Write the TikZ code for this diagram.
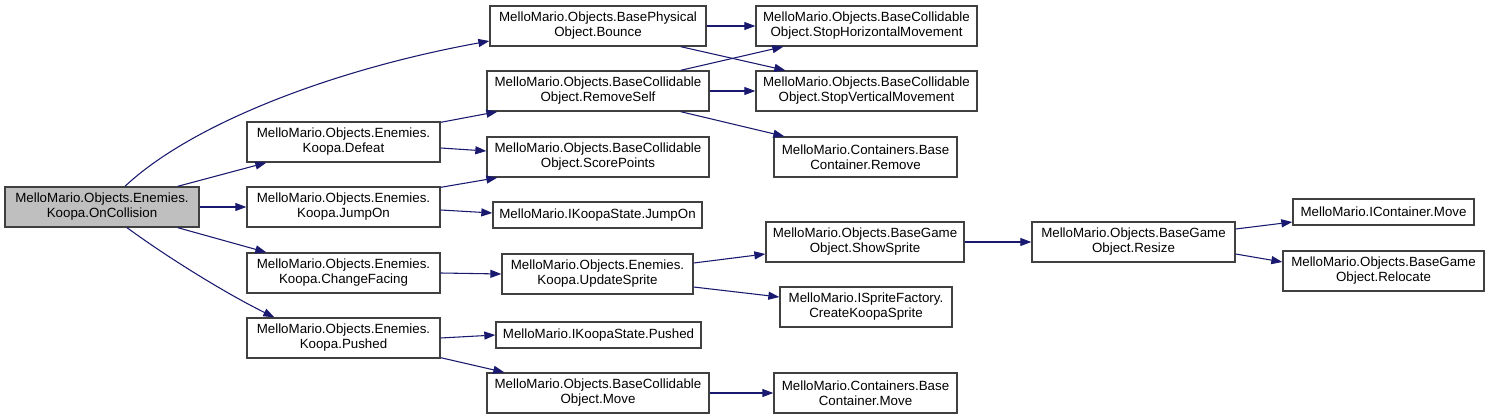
\documentclass[tikz,border=0pt]{standalone}
\usepackage{fontspec}
\setmainfont{Liberation Sans}
\usetikzlibrary{arrows.meta,calc}
\definecolor{edgec}{HTML}{191970}
\definecolor{boxc}{HTML}{404040}
\definecolor{grayfill}{HTML}{BFBFBF}
\newcommand\bnode[7]{%
  \pgfmathsetmacro\bw{(#5-#3)*0.75}%
  \pgfmathsetmacro\bh{(#6-#4)*0.75}%
  \node[box,#1,minimum width=\bw pt,minimum height=\bh pt] (#2) at ({(#3+#5)/2},{(#4+#6)/2}) {#7};}
\begin{document}
\begin{tikzpicture}[x=0.75pt,y=-0.75pt,
  box/.style={draw=boxc,line width=1pt,fill=white,align=center,inner sep=0pt,
    font=\fontsize{10pt}{11.25pt}\selectfont},
  hilite/.style={fill=grayfill},
  edge/.style={draw=edgec,line width=0.8pt,-{Triangle[length=8.25pt,width=6pt]}}]
\useasboundingbox (0,0) rectangle (1491,420);
\fill[white] (0,0) rectangle (1491,420);
\bnode{hilite}{oncoll}{5}{187}{199}{227}{MelloMario.Objects.Enemies.\\Koopa.OnCollision}
\bnode{}{defeat}{247}{122}{440}{162}{MelloMario.Objects.Enemies.\\Koopa.Defeat}
\bnode{}{jumpon}{247}{187}{440}{227}{MelloMario.Objects.Enemies.\\Koopa.JumpOn}
\bnode{}{chgf}{247}{253}{440}{293}{MelloMario.Objects.Enemies.\\Koopa.ChangeFacing}
\bnode{}{pushed}{247}{318}{440}{358}{MelloMario.Objects.Enemies.\\Koopa.Pushed}
\bnode{}{bounce}{490}{6}{706}{46}{MelloMario.Objects.BasePhysical\\Object.Bounce}
\bnode{}{removeself}{487}{71}{709}{111}{MelloMario.Objects.BaseCollidable\\Object.RemoveSelf}
\bnode{}{score}{487}{137}{709}{177}{MelloMario.Objects.BaseCollidable\\Object.ScorePoints}
\bnode{}{ijump}{493}{202}{702}{228}{MelloMario.IKoopaState.JumpOn}
\bnode{}{update}{502}{254}{693}{294}{MelloMario.Objects.Enemies.\\Koopa.UpdateSprite}
\bnode{}{ipushed}{496}{322}{701}{348}{MelloMario.IKoopaState.Pushed}
\bnode{}{move}{487}{373}{709}{413}{MelloMario.Objects.BaseCollidable\\Object.Move}
\bnode{}{stoph}{756}{6}{977}{46}{MelloMario.Objects.BaseCollidable\\Object.StopHorizontalMovement}
\bnode{}{stopv}{756}{71}{977}{111}{MelloMario.Objects.BaseCollidable\\Object.StopVerticalMovement}
\bnode{}{cremove}{774}{137}{957}{177}{MelloMario.Containers.Base\\Container.Remove}
\bnode{}{show}{766}{222}{964}{262}{MelloMario.Objects.BaseGame\\Object.ShowSprite}
\bnode{}{create}{780}{287}{952}{327}{MelloMario.ISpriteFactory.\\CreateKoopaSprite}
\bnode{}{cmove}{774}{373}{957}{413}{MelloMario.Containers.Base\\Container.Move}
\bnode{}{resize}{1032}{222}{1235}{262}{MelloMario.Objects.BaseGame\\Object.Resize}
\bnode{}{icmove}{1293}{199}{1474}{225}{MelloMario.IContainer.Move}
\bnode{}{relocate}{1283}{251}{1484}{291}{MelloMario.Objects.BaseGame\\Object.Relocate}

\draw[edge] ($(oncoll.north)+(23,0)$) .. controls (190,125) and (330,70) .. ($(bounce.west)+(0,15)$);
\draw[edge] ($(oncoll.north east)+(-22,0)$) -- ($(defeat.south west)+(20,0)$);
\draw[edge] (oncoll.east) -- (jumpon.west);
\draw[edge] ($(oncoll.south east)+(-22,0)$) -- ($(chgf.north west)+(20,0)$);
\draw[edge] ($(oncoll.south)+(25,0)$) .. controls (167,257) and (225,293) .. ($(pushed.north west)+(28,0)$);
\draw[edge] ($(defeat.north east)+(0,1)$) -- ($(removeself.south west)+(11,0)$);
\draw[edge] ($(defeat.east)+(0,6)$) -- ($(score.west)+(0,-6)$);
\draw[edge] ($(jumpon.north east)+(0,1)$) -- ($(score.south west)+(11,0)$);
\draw[edge] ($(jumpon.east)+(0,3)$) -- ($(ijump.west)+(0,-2)$);
\draw[edge] (chgf.east) -- (update.west);
\draw[edge] (pushed.east) -- (ipushed.west);
\draw[edge] ($(pushed.south east)+(0,-1)$) -- ($(move.north west)+(18,0)$);
\draw[edge] (bounce.east) -- (stoph.west);
\draw[edge] ($(bounce.south east)+(-26,0)$) -- ($(stopv.north west)+(30,0)$);
\draw[edge] ($(removeself.north east)+(-29,0)$) -- ($(stoph.south west)+(28,0)$);
\draw[edge] (removeself.east) -- (stopv.west);
\draw[edge] ($(removeself.south east)+(-29,0)$) -- ($(cremove.north west)+(11,0)$);
\draw[edge] ($(update.east)+(0,-11)$) -- ($(show.west)+(0,12)$);
\draw[edge] ($(update.east)+(0,13)$) -- ($(create.west)+(0,-10)$);
\draw[edge] (move.east) -- (cmove.west);
\draw[edge] (show.east) -- (resize.west);
\draw[edge] ($(resize.east)+(0,-13)$) -- ($(icmove.west)+(0,10)$);
\draw[edge] ($(resize.east)+(0,12)$) -- ($(relocate.west)+(0,-9)$);
\end{tikzpicture}
\end{document}
